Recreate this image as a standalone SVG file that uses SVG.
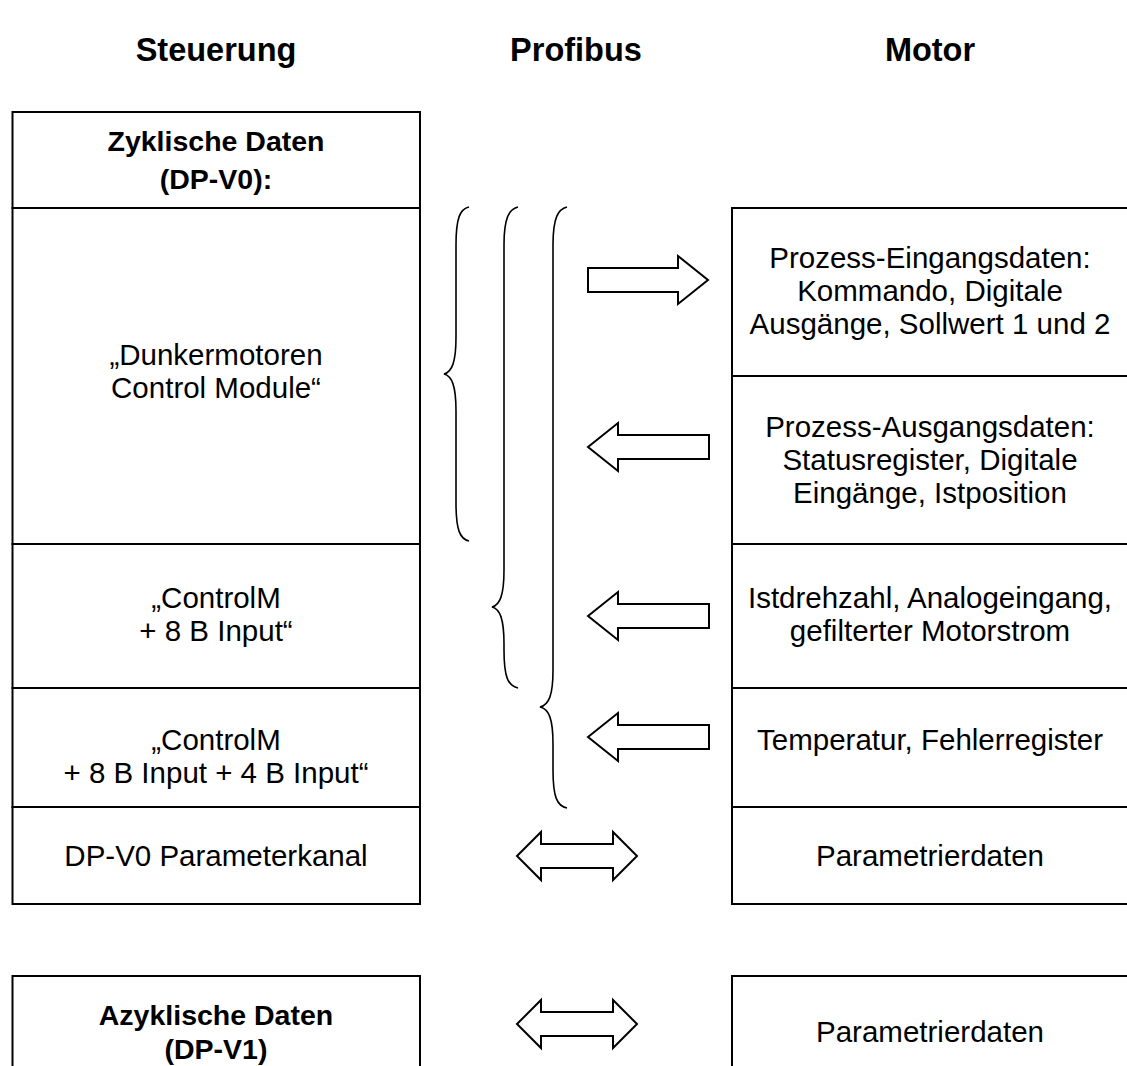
<svg xmlns="http://www.w3.org/2000/svg" width="1127" height="1066" viewBox="0 0 1127 1066">
<style>
.box{fill:#fff;stroke:#000;stroke-width:2}
.t{font-family:"Liberation Sans",Arial,sans-serif;font-size:29.5px;fill:#000;text-anchor:middle}
.b{font-weight:bold;font-size:28.5px}
.h{font-family:"Liberation Sans",Arial,sans-serif;font-size:32.5px;font-weight:bold;fill:#000;text-anchor:middle}
.arr{fill:#fff;stroke:#000;stroke-width:2;stroke-linejoin:miter}
.brace{fill:none;stroke:#000;stroke-width:1.6}
</style>
<rect width="1127" height="1066" fill="#fff"/>
<g id="headers">
<text class="h" x="216" y="61">Steuerung</text>
<text class="h" x="576" y="61">Profibus</text>
<text class="h" x="930" y="61">Motor</text>
</g>
<g id="n-zyklisch"><rect class="box" x="12.5" y="112" width="407.5" height="96"/>
<text class="t b" x="216" y="151">Zyklische Daten</text><text class="t b" x="216" y="189">(DP-V0):</text></g>
<g id="n-dunker"><rect class="box" x="12.5" y="208" width="407.5" height="336"/>
<text class="t" x="216" y="365">„Dunkermotoren</text><text class="t" x="216" y="398">Control Module“</text></g>
<g id="n-controlm1"><rect class="box" x="12.5" y="544" width="407.5" height="144"/>
<text class="t" x="216" y="608">„ControlM</text><text class="t" x="216" y="641">+ 8 B Input“</text></g>
<g id="n-controlm2"><rect class="box" x="12.5" y="688" width="407.5" height="119"/>
<text class="t" x="216" y="750">„ControlM</text><text class="t" x="216" y="783">+ 8 B Input + 4 B Input“</text></g>
<g id="n-dpv0"><rect class="box" x="12.5" y="807" width="407.5" height="97"/>
<text class="t" x="216" y="866">DP-V0 Parameterkanal</text></g>
<g id="n-azyklisch"><rect class="box" x="12.5" y="976" width="407.5" height="100"/>
<text class="t b" x="216" y="1025">Azyklische Daten</text><text class="t b" x="216" y="1059">(DP-V1)</text></g>

<g id="m-eingang"><rect class="box" x="732" y="208" width="398" height="168"/>
<text class="t" x="930" y="268">Prozess-Eingangsdaten:</text><text class="t" x="930" y="301">Kommando, Digitale</text><text class="t" x="930" y="334">Ausgänge, Sollwert 1 und 2</text></g>
<g id="m-ausgang"><rect class="box" x="732" y="376" width="398" height="168"/>
<text class="t" x="930" y="437">Prozess-Ausgangsdaten:</text><text class="t" x="930" y="470">Statusregister, Digitale</text><text class="t" x="930" y="503">Eingänge, Istposition</text></g>
<g id="m-istdreh"><rect class="box" x="732" y="544" width="398" height="144"/>
<text class="t" x="930" y="608">Istdrehzahl, Analogeingang,</text><text class="t" x="930" y="641">gefilterter Motorstrom</text></g>
<g id="m-temp"><rect class="box" x="732" y="688" width="398" height="119"/>
<text class="t" x="930" y="750">Temperatur, Fehlerregister</text></g>
<g id="m-param"><rect class="box" x="732" y="807" width="398" height="97"/>
<text class="t" x="930" y="866">Parametrierdaten</text></g>
<g id="m-param2"><rect class="box" x="732" y="976" width="398" height="100"/>
<text class="t" x="930" y="1042">Parametrierdaten</text></g>

<g id="connectors">
<path class="brace" d="M469,207 C460,209 456,218 456,245 L456,337 C456,362 452,372 444,374 C452,376 456,386 456,411 L456,503 C456,530 460,539 469,541"/>
<path class="brace" d="M518,207 C509,209 504,218 504,245 L504,570 C504,595 500,605 492,607 C500,609 504,619 504,644 L504,650 C504,677 508,686 518,688"/>
<path class="brace" d="M567,207 C558,209 553,218 553,245 L553,670 C553,695 549,705 540,707 C549,709 553,719 553,744 L553,770 C553,797 557,806 567,808"/>
<polygon class="arr" points="588,268 678,268 678,256 708,280 678,304 678,292 588,292"/>
<polygon class="arr" points="588,447 618,423 618,435 709,435 709,459 618,459 618,471"/>
<polygon class="arr" points="588,616 618,592 618,604 709,604 709,628 618,628 618,640"/>
<polygon class="arr" points="588,737 618,713 618,725 709,725 709,749 618,749 618,761"/>
<polygon class="arr" points="517,856 541,832 541,844 613,844 613,832 637,856 613,880 613,868 541,868 541,880"/>
<polygon class="arr" points="517,1024 541,1000 541,1012 613,1012 613,1000 637,1024 613,1048 613,1036 541,1036 541,1048"/>
</g>
</svg>
